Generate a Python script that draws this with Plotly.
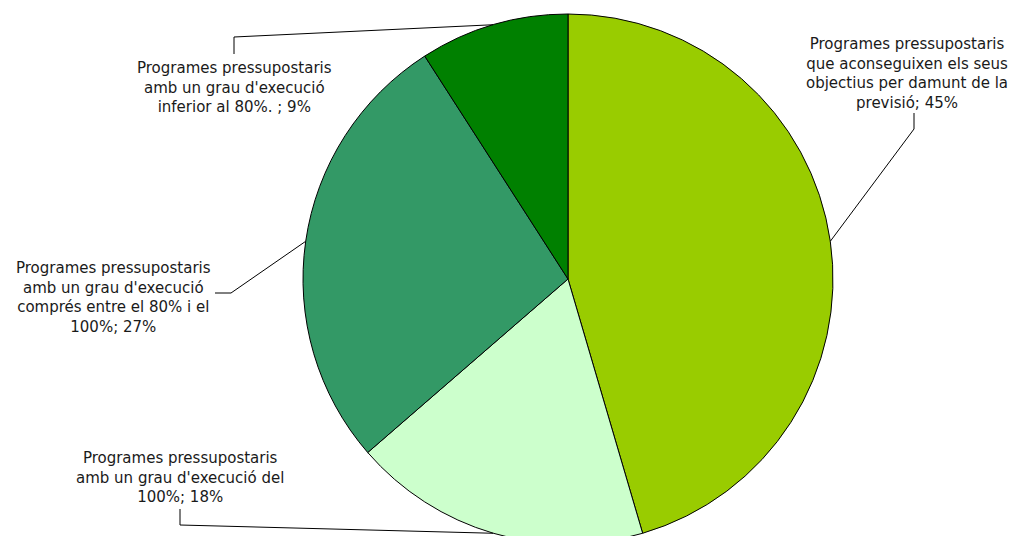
import math
import plotly.graph_objects as go

# ---- data ----
labels = [
    "Programes pressupostaris que aconseguixen els seus objectius per damunt de la previsió",
    "Programes pressupostaris amb un grau d'execució del 100%",
    "Programes pressupostaris amb un grau d'execució comprés entre el 80% i el 100%",
    "Programes pressupostaris amb un grau d'execució inferior al 80%. ",
]
label_lines = [
    ["Programes pressupostaris", "que aconseguixen els seus", "objectius per damunt de la", "previsió; {p}"],
    ["Programes pressupostaris", "amb un grau d'execució del", "100%; {p}"],
    ["Programes pressupostaris", "amb un grau d'execució", "comprés entre el 80% i el", "100%; {p}"],
    ["Programes pressupostaris", "amb un grau d'execució", "inferior al 80%. ; {p}"],
]
values = [5, 2, 3, 1]
colors = ["#99CC00", "#CCFFCC", "#339966", "#008000"]

# ---- layout (screen pixels; page has an 8px body margin) ----
OFF = 8
W, H = 1010, 540
CX, CY, R = 568, 279, 265
# label block centre (x, y)
label_pos = [(907, 73.5), (180, 477.7), (113, 297), (234, 87.7)]
elbows = [[(914, 113), (914, 129)], [(180, 509), (180, 525)],
          [(215, 293), (231, 293)], [(234, 54), (234, 37)]]
FONT_SIZE = 15

def px(x):
    return (x - OFF) / W

def py(y):
    return (H - (y - OFF)) / H

fig = go.Figure(go.Pie(
    labels=labels, values=values, sort=False, direction="clockwise", rotation=0,
    marker=dict(colors=colors, line=dict(color="black", width=1)),
    textinfo="none", hoverinfo="label+percent",
    domain=dict(x=[px(CX - R), px(CX + R)], y=[max(0, py(CY + R)), py(CY - R)]),
    showlegend=False,
))

total = sum(values)
cum = 0
shapes = []
annotations = []
for i, v in enumerate(values):
    mid = (cum + v / 2) / total * 2 * math.pi
    cum += v
    ex = CX + R * math.sin(mid)
    ey = CY - R * math.cos(mid)
    pct = f"{round(v / total * 100)}%"
    text = "<br>".join(l.replace("{p}", pct) for l in label_lines[i])
    lx, ly = label_pos[i]
    annotations.append(dict(x=px(lx), y=py(ly), xref="paper", yref="paper",
                            xanchor="center", yanchor="middle", text=text, showarrow=False,
                            align="center",
                            font=dict(family="DejaVu Sans", size=FONT_SIZE, color="#1a1a1a")))
    (ax, ay), (bx, by) = elbows[i]
    path = f"M {px(ax)} {py(ay)} L {px(bx)} {py(by)} L {px(ex)} {py(ey)}"
    shapes.append(dict(type="path", xref="paper", yref="paper", path=path,
                       line=dict(color="black", width=1)))

fig.update_layout(width=W, height=H, margin=dict(l=0, r=0, t=0, b=0),
                  paper_bgcolor="white", plot_bgcolor="white",
                  shapes=shapes, annotations=annotations)
fig.write_html("out.html")
